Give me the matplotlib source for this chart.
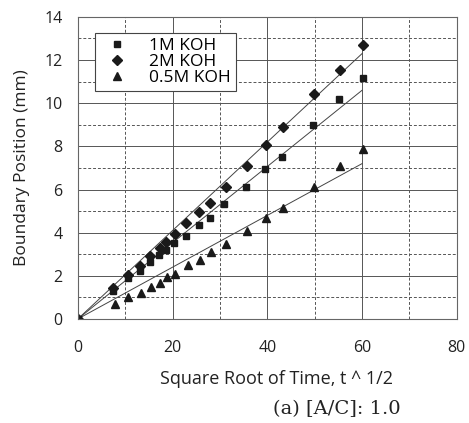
import numpy as np
from matplotlib import pyplot as plt

# data
x_2m = [0, 7.5, 10.6, 13.1, 15.2, 17.3, 18.7, 20.5, 22.9, 25.6, 28.0, 31.2, 35.7, 39.8, 43.3, 49.8, 55.4, 60.3]
y_2m = [0, 1.42, 2.04, 2.45, 2.92, 3.27, 3.58, 3.94, 4.46, 4.94, 5.38, 6.1, 7.1, 8.06, 8.9, 10.45, 11.56, 12.7]

x_1m = [0, 7.5, 10.6, 13.1, 15.2, 17.2, 18.7, 20.3, 22.9, 25.6, 28.0, 30.9, 35.6, 39.6, 43.1, 49.6, 55.1, 60.2]
y_1m = [0, 1.3, 1.88, 2.24, 2.65, 2.96, 3.19, 3.53, 3.84, 4.35, 4.7, 5.35, 6.1, 6.94, 7.5, 8.98, 10.2, 11.17]

x_05m = [0, 7.8, 10.6, 13.3, 15.4, 17.3, 18.8, 20.5, 23.3, 25.7, 28.1, 31.2, 35.8, 39.7, 43.3, 49.8, 55.3, 60.3]
y_05m = [0, 0.69, 1.0, 1.19, 1.5, 1.68, 1.93, 2.07, 2.5, 2.73, 3.12, 3.47, 4.09, 4.66, 5.12, 6.1, 7.1, 7.86]

# fitted lines (end points)
fit_x = [0, 60]
fit_2m = [0, 12.3]
fit_1m = [0, 10.6]
fit_05m = [0, 7.2]

plt.rcParams['font.family'] = ['Open Sans', 'DejaVu Sans']

fig = plt.figure(figsize=(4.69, 4.23), dpi=100)
ax = fig.add_axes([0.166, 0.246, 0.808, 0.714])

# grid
for v in np.arange(0, 81, 10):
    ls = '-' if v % 20 == 0 else (0, (3, 2))
    ax.axvline(v, color='#555555', lw=0.7, ls=ls, zorder=0)
for v in np.arange(0, 15, 1):
    ls = '-' if v % 2 == 0 else (0, (3, 2))
    ax.axhline(v, color='#555555', lw=0.7, ls=ls, zorder=0)

ax.plot(fit_x, fit_2m, color='#444444', lw=0.7)
ax.plot(fit_x, fit_1m, color='#444444', lw=0.7)
ax.plot(fit_x, fit_05m, color='#444444', lw=0.7)

ax.plot(x_1m, y_1m, 's', color='#1a1a1a', ms=5, label='1M KOH')
ax.plot(x_2m, y_2m, 'D', color='#1a1a1a', ms=5, label='2M KOH')
ax.plot(x_05m, y_05m, '^', color='#1a1a1a', ms=6, label='0.5M KOH')

ax.set_xlim(0, 80)
ax.set_ylim(0, 14)
ax.set_xticks([0, 20, 40, 60, 80])
ax.set_yticks(np.arange(0, 15, 2))
ax.tick_params(length=0, labelsize=11.5, colors='#222222')
ax.tick_params(axis='x', pad=15)
ax.tick_params(axis='y', pad=11)
for s in ax.spines.values():
    s.set_color('#666666')
    s.set_linewidth(0.8)

ax.set_xlabel('Square Root of Time, t ^ 1/2', fontsize=13, color='#222222', labelpad=10)
ax.xaxis.label.set_x(0.523)
ax.set_ylabel('Boundary Position (mm)', fontsize=12.5, color='#222222', labelpad=10)

leg = ax.legend(loc='upper left', bbox_to_anchor=(0.045, 0.947), fontsize=12.5,
                frameon=True, fancybox=False, edgecolor='#444444', framealpha=1,
                handletextpad=0.8, borderpad=0.3, labelspacing=-0.02, handlelength=2.0,
                borderaxespad=0)
leg.get_frame().set_linewidth(0.8)

fig.text(0.718, 0.022, '(a) [A/C]: 1.0', fontsize=14, family='DejaVu Serif', ha='center', color='#222222')

fig.savefig('out.png', dpi=100)
